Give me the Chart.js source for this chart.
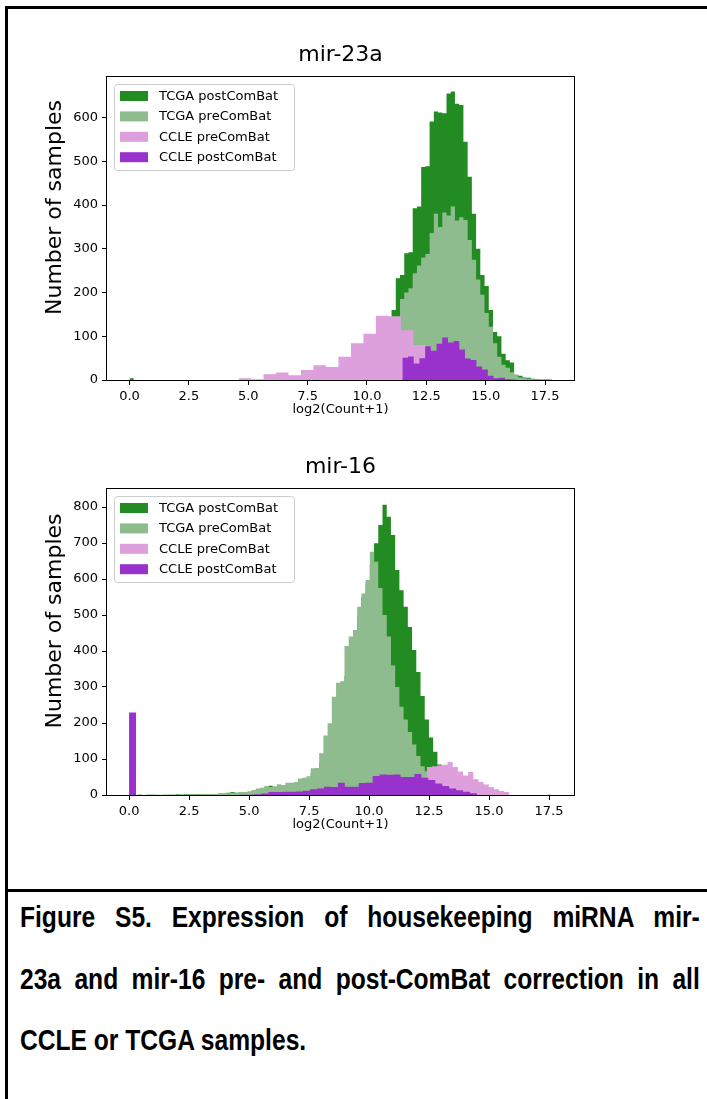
<!DOCTYPE html>
<html>
<head>
<meta charset="utf-8">
<title>Figure S5</title>
<script src="https://cdn.jsdelivr.net/npm/chart.js@4.4.1/dist/chart.umd.min.js"></script>
<style>
  html, body { margin: 0; padding: 0; background: #fff; }
  body { width: 707px; height: 1099px; position: relative; overflow: hidden; }
  .frame { position: absolute; left: 5px; top: 6px; width: 720px; height: 1110px;
           border-left: 3px solid #000; border-top: 3px solid #000; }
  .rule { position: absolute; left: 5px; top: 889px; width: 720px; height: 3px; background: #000; }
  canvas { position: absolute; left: 0; }
  #mir23a-chart-id { top: 20px; }
  #mir16-chart-id { top: 432px; }
  /* condensed bold caption: lay out 829px wide, squeeze to 680px */
  .caption { position: absolute; left: 20px; width: 829px; height: 34px; line-height: 34px;
             font-family: "Liberation Sans", Arial, sans-serif;
             font-weight: bold; font-size: 30px; color: #000;
             text-align: justify; text-align-last: justify;
             transform: scaleX(0.82); transform-origin: 0 0; }
  .caption.last { text-align-last: left; }
</style>
</head>
<body>
<div class="frame"></div>
<canvas id="mir23a-chart-id" width="707" height="400"></canvas>
<canvas id="mir16-chart-id" width="707" height="403"></canvas>
<div class="rule"></div>
<div class="caption" style="top:900px">Figure S5. Expression of housekeeping miRNA mir-</div>
<div class="caption" style="top:962px">23a and mir-16 pre- and post-ComBat correction in all</div>
<div class="caption last" style="top:1023px">CCLE or TCGA samples.</div>

<script>
// ===================== DATA =====================
// histogram counts per bin, bins spread evenly over each range

const xTickValues = [0, 2.5, 5, 7.5, 10, 12.5, 15, 17.5];
const seriesLabels = ['TCGA postComBat', 'TCGA preComBat', 'CCLE preComBat', 'CCLE postComBat'];

// mir-23a
const mir23aTcgaPostRange = [0, 17.8];
const mir23aTcgaPost = [
  4, 0, 0, 0, 0, 0, 0, 0, 0, 0,
  0, 0, 0, 0, 0, 0, 0, 0, 0, 0,
  0, 0, 0, 0, 0, 0, 0, 0, 0, 0,
  0, 0, 0, 0, 0, 0, 0, 0, 0, 0,
  0, 0, 0, 0, 0, 0, 0, 0, 1, 1,
  2, 3, 4, 6, 10, 15, 24, 35, 50, 70,
  95, 125, 160, 233, 240, 290, 292, 393, 397, 487,
  489, 591, 614, 612, 610, 655, 660, 632, 629, 545,
  465, 380, 300, 240, 215, 160, 110, 100, 60, 45,
  40, 12, 10, 6, 5, 3, 2, 1, 1, 1
];
const mir23aTcgaPreRange = [0, 17.8];
const mir23aTcgaPre = [
  0, 0, 0, 0, 0, 0, 0, 0, 0, 0,
  0, 0, 0, 0, 0, 0, 0, 0, 0, 0,
  0, 0, 0, 0, 0, 0, 0, 0, 0, 0,
  0, 0, 0, 0, 0, 0, 0, 0, 0, 0,
  0, 0, 0, 0, 0, 0, 0, 0, 0, 1,
  1, 2, 3, 5, 8, 12, 18, 25, 35, 50,
  70, 95, 120, 140, 185, 200, 210, 244, 262, 280,
  288, 336, 380, 350, 383, 376, 397, 365, 372, 366,
  320, 275, 230, 195, 153, 122, 84, 53, 35, 28,
  18, 12, 6, 4, 3, 2, 1, 0, 0, 0
];
const mir23aCclePreRange = [4.59, 15.11];
const mir23aCclePre = [4, 2, 13, 17, 11, 23, 34, 30, 53, 84, 106, 147, 146, 114, 80, 60, 40, 25, 10, 4];
const mir23aCclePostRange = [11.49, 16.29];
const mir23aCclePost = [51, 54, 38, 50, 77, 67, 83, 97, 86, 89, 70, 49, 46, 31, 24, 10, 4, 5, 2, 1];

// mir-16
const mir16TcgaPostRange = [0, 17.6];
const mir16TcgaPost = [
  1, 0, 1, 0, 1, 1, 1, 0, 1, 1,
  1, 2, 1, 2, 2, 2, 3, 2, 3, 3,
  3, 4, 4, 6, 8, 6, 7, 8, 9, 10,
  12, 14, 16, 26, 20, 22, 24, 28, 30, 32,
  38, 42, 48, 60, 70, 90, 110, 140, 180, 230,
  280, 330, 390, 440, 500, 550, 590, 640, 699, 750,
  806, 773, 722, 625, 569, 523, 467, 403, 342, 275,
  210, 160, 120, 85, 50, 28, 14, 7, 3, 2,
  1, 0, 0, 0, 0, 0, 0, 0, 0, 0,
  0, 0, 0, 0, 0, 0, 0, 0, 0, 1
];
const mir16TcgaPreRange = [0, 17.6];
const mir16TcgaPre = [
  0, 0, 1, 0, 1, 1, 0, 1, 1, 1,
  1, 1, 2, 1, 2, 2, 2, 3, 2, 3,
  3, 3, 4, 5, 6, 6, 8, 8, 10, 14,
  18, 20, 25, 22, 24, 30, 28, 34, 34, 36,
  46, 48, 52, 74, 75, 116, 165, 199, 273, 312,
  316, 414, 440, 458, 523, 560, 597, 676, 648, 575,
  500, 440, 360, 300, 245, 210, 175, 140, 108, 80,
  66, 40, 25, 12, 6, 3, 1, 0, 0, 0,
  0, 0, 0, 0, 0, 0, 0, 0, 0, 0,
  0, 0, 0, 0, 0, 0, 0, 0, 0, 0
];
const mir16CclePreRange = [11.55, 15.85];
const mir16CclePre = [5, 10, 20, 35, 78, 80, 82, 84, 92, 78, 65, 54, 64, 44, 36, 29, 22, 16, 11, 8];
const mir16CclePostRange = [0, 14.5];
const mir16CclePost = [
  229, 0, 0, 0, 0, 0, 0, 0, 0, 0,
  0, 0, 0, 0, 0, 0, 1, 1, 2, 4,
  8, 8, 9, 9, 10, 12, 16, 18, 23, 22,
  34, 23, 23, 33, 34, 53, 57, 56, 57, 50,
  50, 58, 48, 42, 32, 25, 18, 13, 9, 5
];

// matplotlib named colours
const colorTcgaPost = '#228b22';  // forestgreen
const colorTcgaPre = '#8fbc8f';   // darkseagreen
const colorCclePre = '#dda0dd';   // plum
const colorCclePost = '#9932cc';  // darkorchid

const chartFont = 'DejaVu Sans';

// left bin edges + closing edge, drawn as a stepped filled line
function histPoints(range, counts) {
  const w = (range[1] - range[0]) / counts.length;
  const pts = counts.map((c, i) => ({ x: range[0] + i * w, y: c }));
  pts.push({ x: range[1], y: counts[counts.length - 1] });
  return pts;
}

// black box around the plot area (all four spines)
const axesBox = {
  id: 'axesBox',
  afterDatasetsDraw(chart) {
    const { ctx, chartArea: a } = chart;
    ctx.save();
    ctx.strokeStyle = '#000';
    ctx.lineWidth = 1;
    ctx.strokeRect(a.left - 0.5, a.top - 0.5, a.right - a.left + 1, a.bottom - a.top + 1);
    ctx.restore();
  }
};

// legend box in the upper left corner, inside the axes
const boxLegend = {
  id: 'boxLegend',
  afterDatasetsDraw(chart) {
    const { ctx, chartArea } = chart;
    const x = chartArea.left + 7, y = chartArea.top + 7;
    const w = 180, h = 86;
    ctx.save();
    ctx.beginPath();
    if (ctx.roundRect) ctx.roundRect(x + 0.5, y + 0.5, w, h, 3);
    else ctx.rect(x + 0.5, y + 0.5, w, h);
    ctx.fillStyle = 'rgba(255,255,255,0.8)';
    ctx.fill();
    ctx.strokeStyle = '#cccccc';
    ctx.lineWidth = 1;
    ctx.stroke();
    ctx.font = '13px "' + chartFont + '"';
    ctx.textBaseline = 'middle';
    chart.data.datasets.forEach((ds, i) => {
      const cy = y + 12 + i * 20.4;
      ctx.fillStyle = ds.backgroundColor;
      ctx.fillRect(x + 6, cy - 5, 28, 10);
      ctx.fillStyle = '#000';
      ctx.fillText(ds.label, x + 45, cy + 0.5);
    });
    ctx.restore();
  }
};

// y axis label, sits a little above the middle of the axis like in the figure
const yLabel = {
  id: 'yLabel',
  afterDraw(chart) {
    const { ctx, chartArea } = chart;
    ctx.save();
    ctx.translate(55, (chartArea.top + chartArea.bottom) / 2 - 21);
    ctx.rotate(-Math.PI / 2);
    ctx.font = '22px "' + chartFont + '"';
    ctx.textAlign = 'center';
    ctx.textBaseline = 'middle';
    ctx.fillStyle = '#000';
    ctx.fillText('Number of samples', 0, 0);
    ctx.restore();
  }
};

function buildHistChart(canvasId, titleText, xRange, yMax, yTickValues, series) {
  const el = document.getElementById(canvasId);
  if (!el) return;
  new Chart(el, {
    type: 'line',
    data: {
      datasets: series.map((s, i) => ({
        label: s.label,
        data: histPoints(s.range, s.counts),
        backgroundColor: s.color,
        borderColor: 'rgba(0,0,0,0)',
        borderWidth: 0,
        pointRadius: 0,
        stepped: 'before', // value holds from its left edge to the next edge
        fill: 'origin',
        order: series.length - i // later series are painted on top
      }))
    },
    options: {
      responsive: false,
      animation: false,
      events: [],
      layout: { padding: { top: 0, left: 0, right: 133, bottom: 0 } },
      plugins: {
        legend: { display: false },
        tooltip: { enabled: false },
        title: {
          display: true,
          fullSize: false,
          text: titleText,
          color: '#000',
          font: { family: chartFont, size: 22, weight: 'normal' },
          padding: { top: 22, bottom: 8.6 }
        }
      },
      scales: {
        x: {
          type: 'linear',
          min: xRange[0],
          max: xRange[1],
          afterFit: scale => { scale.height = 40; },
          afterBuildTicks: scale => { scale.ticks = xTickValues.map(v => ({ value: v })); },
          ticks: {
            color: '#000',
            font: { family: chartFont, size: 13 },
            padding: 4,
            autoSkip: false,
            maxRotation: 0,
            callback: v => Number(v).toFixed(1)
          },
          grid: { drawOnChartArea: false, drawTicks: true, tickLength: 5, color: '#000' },
          border: { display: false },
          title: {
            display: true,
            text: 'log2(Count+1)',
            color: '#000',
            font: { family: chartFont, size: 13 },
            padding: { top: 0, bottom: 3 }
          }
        },
        y: {
          min: 0,
          max: yMax,
          afterFit: scale => { scale.width = 107; },
          afterBuildTicks: scale => { scale.ticks = yTickValues.map(v => ({ value: v })); },
          ticks: {
            color: '#000',
            font: { family: chartFont, size: 13 },
            padding: 4,
            autoSkip: false
          },
          grid: { drawOnChartArea: false, drawTicks: true, tickLength: 5, color: '#000' },
          border: { display: false }
        }
      }
    },
    plugins: [axesBox, boxLegend, yLabel]
  });
}

function initFigure() {
  // ===================== MIR-23A =====================
  buildHistChart('mir23a-chart-id', 'mir-23a', [-0.95, 18.72], 693, [0, 100, 200, 300, 400, 500, 600], [
    { label: seriesLabels[0], color: colorTcgaPost, range: mir23aTcgaPostRange, counts: mir23aTcgaPost },
    { label: seriesLabels[1], color: colorTcgaPre, range: mir23aTcgaPreRange, counts: mir23aTcgaPre },
    { label: seriesLabels[2], color: colorCclePre, range: mir23aCclePreRange, counts: mir23aCclePre },
    { label: seriesLabels[3], color: colorCclePost, range: mir23aCclePostRange, counts: mir23aCclePost }
  ]);

  // ===================== MIR-16 =====================
  buildHistChart('mir16-chart-id', 'mir-16', [-0.92, 18.54], 850, [0, 100, 200, 300, 400, 500, 600, 700, 800], [
    { label: seriesLabels[0], color: colorTcgaPost, range: mir16TcgaPostRange, counts: mir16TcgaPost },
    { label: seriesLabels[1], color: colorTcgaPre, range: mir16TcgaPreRange, counts: mir16TcgaPre },
    { label: seriesLabels[2], color: colorCclePre, range: mir16CclePreRange, counts: mir16CclePre },
    { label: seriesLabels[3], color: colorCclePost, range: mir16CclePostRange, counts: mir16CclePost }
  ]);
}

document.addEventListener('DOMContentLoaded', initFigure);
</script>
</body>
</html>
